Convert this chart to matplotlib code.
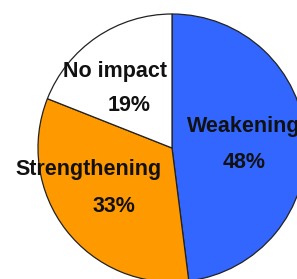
import matplotlib.pyplot as plt

labels = ["Weakening", "Strengthening", "No impact"]
shares = [48, 33, 19]
pct_labels = ["48%", "33%", "19%"]
colors = ["#3366FF", "#FF9900", "#FFFFFF"]

plt.rcParams['font.family'] = ['Liberation Sans', 'DejaVu Sans']

fig = plt.figure(figsize=(2.97, 2.79), dpi=100)
ax = fig.add_axes([0, 0, 1, 1])

# pie is bigger than the canvas, so work in pixel units
ax.pie(shares, colors=colors, startangle=90, counterclock=False,
       center=(172, 131), radius=134,
       wedgeprops=dict(edgecolor="#222222", linewidth=0.9))
ax.set_xlim(0, 297)
ax.set_ylim(0, 279)
ax.set_aspect('auto')
ax.axis('off')

# name / percent positions (x, baseline y) in pixels
name_pos = [(244, 147), (89, 104), (115, 202)]
pct_pos = [(244, 111), (114, 67), (129, 168)]
for name, pct, (nx, ny), (px, py) in zip(labels, pct_labels, name_pos, pct_pos):
    ax.text(nx, ny, name, ha='center', va='baseline', fontsize=15.5, fontweight='bold', color='#111111')
    ax.text(px, py, pct, ha='center', va='baseline', fontsize=15.5, fontweight='bold', color='#111111')

fig.savefig("out.png", dpi=100)
